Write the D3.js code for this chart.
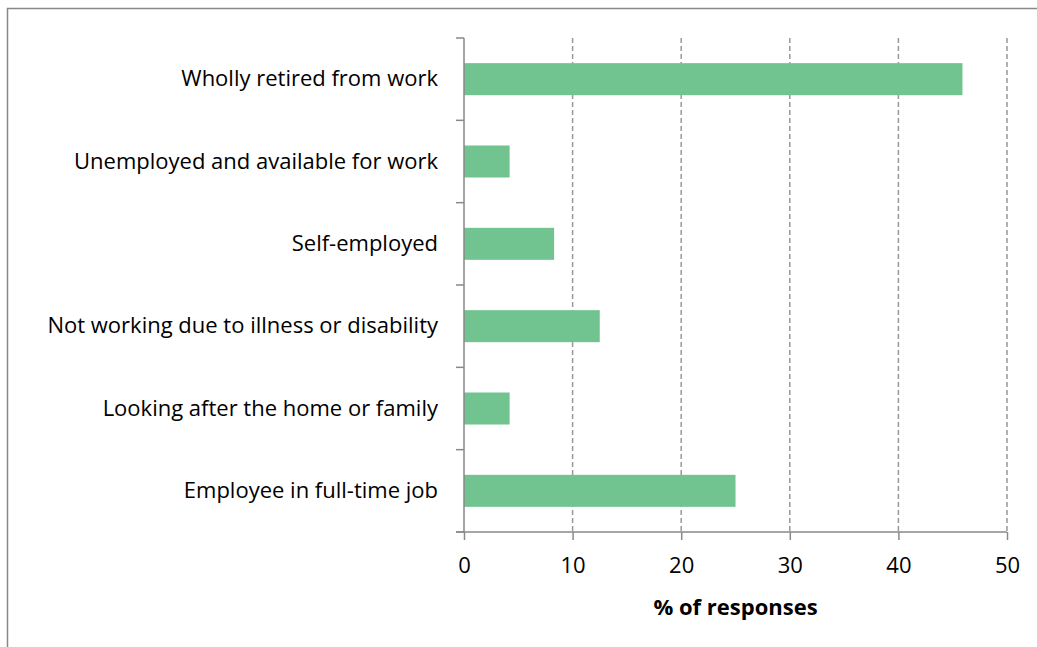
<!DOCTYPE html>
<html>
<head>
<meta charset="utf-8">
<script src="https://cdn.jsdelivr.net/npm/d3@7"></script>
<style>
  body { margin: 0; background: #fff; }
  svg text { font-family: "Open Sans", sans-serif; fill: #000; }
</style>
</head>
<body>
<div id="chart"></div>
<script>
// categories from top to bottom, as in the picture
var categories = [
  "Wholly retired from work",
  "Unemployed and available for work",
  "Self-employed",
  "Not working due to illness or disability",
  "Looking after the home or family",
  "Employee in full-time job"
];
var values = [45.9, 4.2, 8.3, 12.5, 4.2, 25.0];
var xTicks = [0, 10, 20, 30, 40, 50];
var xTitle = "% of responses";

var width = 1037, height = 647;
var margin = { top: 38, left: 464, right: 30, bottom: 115 };
var fontSize = "22px";

var svg = d3.select("#chart").append("svg")
  .attr("width", width)
  .attr("height", height);

// outer chart border (runs off right and bottom edge)
svg.append("rect")
  .attr("x", 7.5).attr("y", 8.5)
  .attr("width", width + 20).attr("height", height + 20)
  .attr("fill", "none")
  .attr("stroke", "#898989")
  .attr("stroke-width", 1.5);

var x = d3.scaleLinear().domain([0, 50]).range([margin.left, 1007]);
var y = d3.scaleBand().domain(categories).range([margin.top, 532]).paddingInner(0).paddingOuter(0);

// dashed gridlines
svg.append("g").selectAll("line")
  .data(xTicks.slice(1))
  .join("line")
  .attr("x1", d => x(d)).attr("x2", d => x(d))
  .attr("y1", margin.top).attr("y2", 532)
  .attr("stroke", "#999")
  .attr("stroke-width", 1.5)
  .attr("stroke-dasharray", "5,3");

// bars
var barH = 32;
svg.append("g").selectAll("rect")
  .data(values)
  .join("rect")
  .attr("x", x(0))
  .attr("y", (d, i) => y(categories[i]) + y.bandwidth() / 2 - barH / 2)
  .attr("width", d => x(d) - x(0))
  .attr("height", barH)
  .attr("fill", "#71c48f");

// y axis
var yAxis = svg.append("g")
  .attr("transform", "translate(" + x(0) + ",0)")
  .call(d3.axisLeft(y).tickSize(0).tickPadding(26));
yAxis.select(".domain").remove();
yAxis.selectAll("text").style("font-size", fontSize);
// category separator ticks
svg.append("g").selectAll("line")
  .data(d3.range(categories.length + 1))
  .join("line")
  .attr("x1", x(0) - 8).attr("x2", x(0))
  .attr("y1", i => margin.top + i * y.bandwidth())
  .attr("y2", i => margin.top + i * y.bandwidth())
  .attr("stroke", "#898989").attr("stroke-width", 1.5);
svg.append("line")
  .attr("x1", x(0)).attr("x2", x(0))
  .attr("y1", margin.top).attr("y2", 532)
  .attr("stroke", "#898989").attr("stroke-width", 1.5);

// x axis
var xAxis = svg.append("g")
  .attr("transform", "translate(0,532)")
  .call(d3.axisBottom(x).tickValues(xTicks).tickSize(8).tickPadding(17).tickSizeOuter(0));
xAxis.select(".domain").attr("stroke", "#898989").attr("stroke-width", 1.5)
  .attr("d", "M" + (x(0) - 8) + ",0H" + x(50));
xAxis.selectAll("line").attr("stroke", "#898989").attr("stroke-width", 1.5);
xAxis.selectAll("text").style("font-size", fontSize);

svg.append("text")
  .attr("x", (x(0) + x(50)) / 2)
  .attr("y", 615)
  .attr("text-anchor", "middle")
  .style("font-size", fontSize)
  .style("font-weight", "bold")
  .text(xTitle);
</script>
</body>
</html>
